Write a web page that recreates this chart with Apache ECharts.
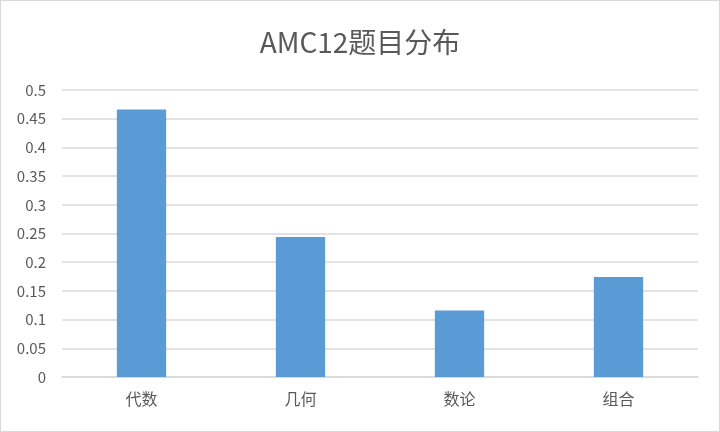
<!DOCTYPE html>
<html><head><meta charset="utf-8">
<script src="https://cdn.jsdelivr.net/npm/echarts@6/dist/echarts.min.js"></script>
<style>html,body{margin:0;padding:0;background:#fff}#c{width:718px;height:430px;border:1px solid #d9d9d9}</style>
</head><body><div id="c"></div>
<script>
const categories = ['代数', '几何', '数论', '组合'];
const values = [0.466, 0.244, 0.116, 0.174];
const yTicks = { min: 0, max: 0.5, interval: 0.05 };
const chart = echarts.init(document.getElementById('c'));
chart.setOption({
  animation: false,
  title: { text: 'AMC12题目分布', left: 'center', top: 22,
    textStyle: { fontFamily: 'Noto Sans CJK SC', fontSize: 28, fontWeight: 'normal', color: '#595959' } },
  grid: { left: 61, right: 21, top: 89, bottom: 54 },
  xAxis: { type: 'category', data: categories,
    axisLine: { lineStyle: { color: '#d9d9d9', width: 1.5 } }, axisTick: { show: false },
    axisLabel: { color: '#595959', fontSize: 16, margin: 14, fontFamily: 'Noto Sans CJK SC' } },
  yAxis: { type: 'value', min: yTicks.min, max: yTicks.max, interval: yTicks.interval,
    axisLine: { show: false }, axisTick: { show: false },
    splitLine: { lineStyle: { color: '#d9d9d9', width: 1.5 } },
    axisLabel: { color: '#595959', fontSize: 15, margin: 16, fontFamily: 'Noto Sans CJK SC',
      formatter: v => String(parseFloat(v.toFixed(2))) } },
  series: [{ type: 'bar', data: values, barWidth: '31%', itemStyle: { color: '#5b9bd5' } }]
});
</script></body></html>
